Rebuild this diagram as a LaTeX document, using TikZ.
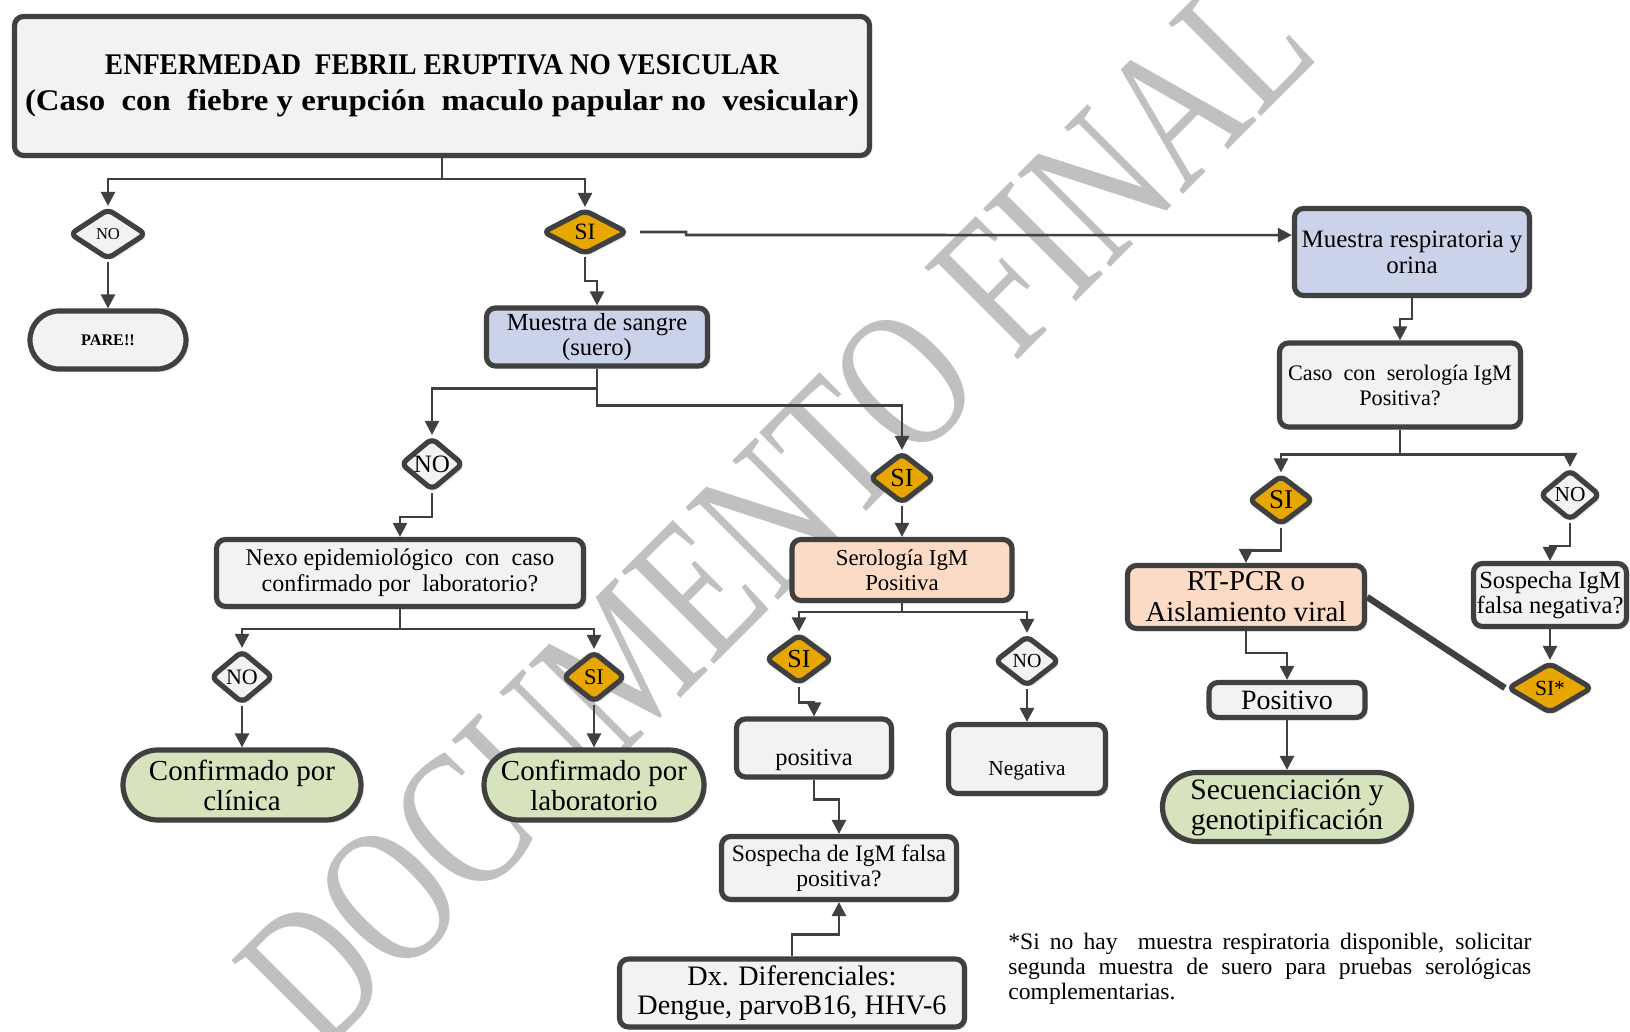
\documentclass[tikz,border=0pt]{standalone}
\usepackage{fontspec}
\setmainfont{Liberation Serif}
\usetikzlibrary{arrows.meta,shapes.geometric,shapes.misc,shadows}

\definecolor{borde}{RGB}{64,64,64}
\definecolor{gris}{RGB}{242,242,242}
\definecolor{azulc}{RGB}{202,211,233}
\definecolor{salmon}{RGB}{251,219,198}
\definecolor{verde}{RGB}{215,227,189}
\definecolor{oro}{RGB}{231,167,0}
\definecolor{marca}{RGB}{192,192,192}

\newcommand{\fsz}[2]{\fontsize{#1}{#2}\selectfont}

\tikzset{
  sombra/.style={drop shadow={shadow xshift=1.5pt,shadow yshift=-1.5pt,opacity=0.18}},
  caja/.style={rectangle, rounded corners=4.5pt, draw=borde, line width=2.6pt,
    fill=gris, align=center, inner sep=0pt, sombra},
  cajaazul/.style={caja, fill=azulc},
  cajasalmon/.style={caja, fill=salmon},
  fin/.style={rounded rectangle, draw=borde, line width=2.6pt, fill=verde,
    align=center, inner sep=0pt, sombra},
  decision/.style={diamond, rounded corners=3pt, draw=borde, line width=2.6pt,
    fill=gris, inner sep=0pt, sombra},
  sidec/.style={decision, fill=oro},
  flecha/.style={->, draw=borde, line width=1.3pt},
  >={Triangle[length=7pt,width=7pt]}
}

\begin{document}
\begin{tikzpicture}[x=0.5pt,y=-0.5pt]
\useasboundingbox (0,0) rectangle (1630,1032);

% marca de agua
\node[text=marca, rotate=45, inner sep=0pt, font=\fsz{100}{100}] (marca) at (776,510)
  {\scalebox{0.74}[1]{DOCUMENTO FINAL}};

% cabecera
\node[caja, minimum width=427.5pt, minimum height=69.5pt, font=\bfseries\fsz{15}{18}] (titulo) at (442,86)
  {\resizebox{337pt}{\height}{ENFERMEDAD\ \ FEBRIL ERUPTIVA NO VESICULAR}\\
   \resizebox{417pt}{\height}{(Caso\ \ con\ \ fiebre y erupción\ \ maculo papular no\ \ vesicular)}};

\node[decision, minimum width=38.5pt, minimum height=25.5pt, font=\fsz{8.3}{9}] (noA) at (108,234) {NO};
\node[sidec, minimum width=42.5pt, minimum height=22.5pt, font=\fsz{11.7}{12}] (siA) at (585,232) {SI};
\node[fin, fill=gris, minimum width=78pt, minimum height=29pt, font=\bfseries\fsz{8.1}{9}] (pare) at (108,340) {PARE!!};
\node[cajaazul, minimum width=110.5pt, minimum height=29pt, font=\fsz{12.3}{12.5}] (sangre) at (597,337)
  {Muestra de sangre\\(suero)};

% rama respiratoria
\node[cajaazul, minimum width=117.5pt, minimum height=43.5pt, font=\fsz{12.5}{13}] (respira) at (1412,252)
  {Muestra respiratoria y\\orina};
\node[caja, minimum width=120.5pt, minimum height=42pt, font=\fsz{11.1}{12.5}] (casoIgM) at (1400,385)
  {Caso\ \ con\ \ serología IgM\\Positiva?};
\node[sidec, minimum width=32.5pt, minimum height=25pt, font=\fsz{13.5}{14}] (siR) at (1281,500) {SI};
\node[decision, minimum width=30.5pt, minimum height=25.5pt, font=\fsz{10.7}{11}] (noR) at (1570,495) {NO};
\node[cajasalmon, minimum width=118.5pt, minimum height=31.5pt, font=\fsz{14.4}{15.6}] (pcr) at (1246,597)
  {RT-PCR o\\Aislamiento viral};
\node[caja, minimum width=76.5pt, minimum height=31.5pt, font=\fsz{12.3}{12.5}] (sospNeg) at (1550,595)
  {Sospecha IgM\\falsa negativa?};
\node[sidec, minimum width=42.5pt, minimum height=25.5pt, font=\fsz{10.8}{11}] (siAst) at (1550,688) {SI*};
\node[caja, minimum width=78pt, minimum height=17.5pt, font=\fsz{14}{15}] (positivo) at (1287,700) {Positivo};
\node[fin, minimum width=124.5pt, minimum height=34.5pt, font=\fsz{14.8}{15}] (secuencia) at (1287,807)
  {Secuenciación y\\genotipificación};

% rama sangre, lado NO
\node[decision, minimum width=31.5pt, minimum height=26.5pt, font=\fsz{12.5}{13}] (noB) at (432,464) {NO};
\node[caja, minimum width=183.5pt, minimum height=33.5pt, font=\fsz{12}{12.8}] (nexo) at (400,573)
  {Nexo epidemiológico\ \ con\ \ caso\\confirmado por\ \ laboratorio?};
\node[decision, minimum width=31.5pt, minimum height=26.5pt, font=\fsz{11}{11}] (noC) at (242,677) {NO};
\node[sidec, minimum width=31.5pt, minimum height=25.5pt, font=\fsz{11.2}{11}] (siC) at (594,677) {SI};
\node[fin, minimum width=119pt, minimum height=35pt, font=\fsz{14.5}{15}] (clinica) at (242,785)
  {Confirmado por\\clínica};
\node[fin, minimum width=110pt, minimum height=35pt, font=\fsz{14.5}{15}] (labor) at (594,785)
  {Confirmado por\\laboratorio};

% rama sangre, lado SI
\node[sidec, minimum width=32.5pt, minimum height=25.5pt, font=\fsz{13}{13}] (siB) at (902,478) {SI};
\node[cajasalmon, minimum width=110pt, minimum height=30.5pt, font=\fsz{11.4}{12.5}] (serologia) at (902,570)
  {Serología IgM\\Positiva};
\node[sidec, minimum width=33.5pt, minimum height=25pt, font=\fsz{13}{13}] (siD) at (799,659) {SI};
\node[decision, minimum width=32.5pt, minimum height=25.5pt, font=\fsz{10}{10}] (noD) at (1027,661) {NO};
\node[caja, minimum width=77.5pt, minimum height=29pt, text height=19.6pt, text depth=2pt,
  font=\fsz{12.2}{13}] (posit) at (814,748) {positiva};
\node[caja, minimum width=78.5pt, minimum height=34.5pt, text height=18pt, text depth=2pt,
  font=\fsz{10.7}{11}] (negat) at (1027,759) {Negativa};
\node[caja, minimum width=117.5pt, minimum height=31.5pt, font=\fsz{11.8}{12.5}] (sospPos) at (839,868)
  {Sospecha de IgM falsa\\positiva?};
\node[caja, minimum width=172.5pt, minimum height=34pt, font=\fsz{14.1}{14.6}] (dx) at (792,993)
  {Dx. Diferenciales:\\Dengue, parvoB16, HHV-6};

% nota al pie
\node[anchor=north west, inner sep=0pt, text width=261.5pt, align=justify, font=\fsz{11.8}{12.5}] (nota) at (1008,933)
  {*Si no hay\ \ muestra respiratoria disponible, solicitar\linebreak
   segunda muestra de suero para pruebas serológicas\linebreak
   \mbox{complementarias.}};

% conectores
\draw[flecha] (titulo.south) -- ++(0,21) -| (noA.north);
\draw[flecha] (titulo.south) -- ++(0,21) -| (siA.north);
\draw[flecha] (noA.south) -- (pare.north);
\draw[flecha] (siA.south) -- ++(0,24) -| (sangre.north);
\draw[flecha] ([xshift=5pt]siA.east) -- ++(46,0) -- ++(0,3) -- (respira.172);

\draw[flecha] (respira.south) -- ++(0,21) -| (casoIgM.north);
\draw[flecha] (casoIgM.south) -- ++(0,25) -| (siR.north);
\draw[flecha] (casoIgM.south) -- ++(0,25) -| (noR.north);
\draw[flecha] (siR.south) -- ++(0,23) -| (pcr.north);
\draw[flecha] (noR.south) -- ++(0,23) -| (sospNeg.north);
\draw[flecha] (sospNeg.south) -- (siAst.north);
\draw[borde, line width=3.2pt] (pcr.east) -- (siAst.west);
\draw[flecha] (pcr.south) -- ++(0,22) -| (positivo.north);
\draw[flecha] (positivo.south) -- (secuencia.north);

\draw[flecha] (sangre.south) -- ++(0,20) -| (noB.north);
\draw[flecha] (sangre.south) -- ++(0,37) -| (siB.north);
\draw[flecha] (noB.south) -- ++(0,24) -| (nexo.north);
\draw[flecha] (nexo.south) -- ++(0,20) -| (noC.north);
\draw[flecha] (nexo.south) -- ++(0,20) -| (siC.north);
\draw[flecha] (noC.south) -- (clinica.north);
\draw[flecha] (siC.south) -- (labor.north);

\draw[flecha] (siB.south) -- (serologia.north);
\draw[flecha] (serologia.south) -- ++(0,9) -| (siD.north);
\draw[flecha] (serologia.south) -- ++(0,9) -| (noD.north);
\draw[flecha] (siD.south) -- ++(0,16) -| (posit.north);
\draw[flecha] (noD.south) -- (negat.north);
\draw[flecha] (posit.south) -- ++(0,20) -| (sospPos.north);
\draw[flecha] (dx.north) -- ++(0,-22) -| (sospPos.south);
\end{tikzpicture}
\end{document}
